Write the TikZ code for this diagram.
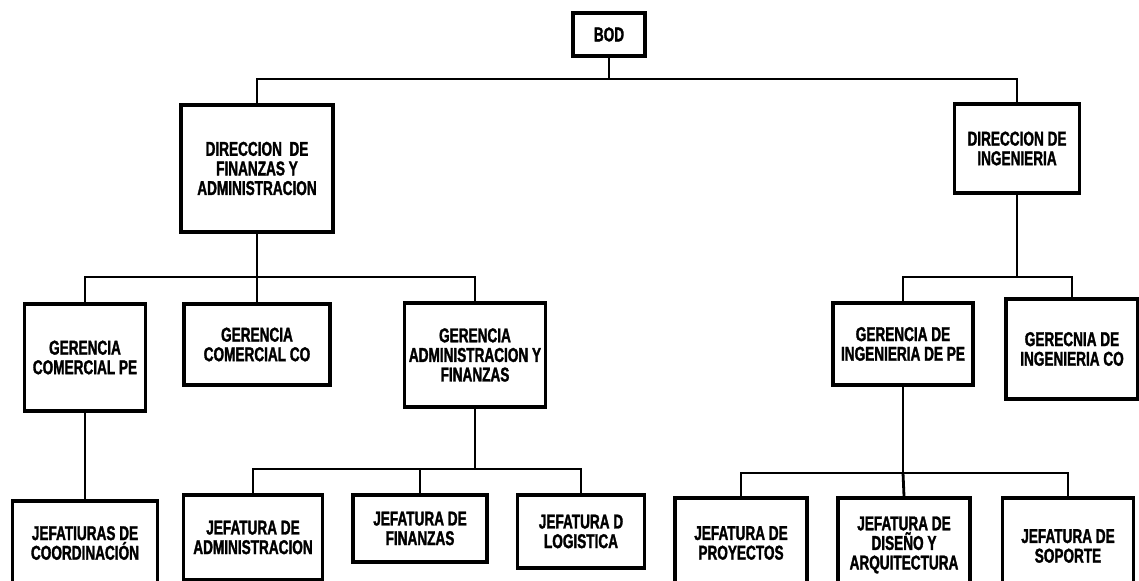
\documentclass[tikz,border=0pt]{standalone}
\usepackage{fontspec}
\setmainfont{Liberation Sans}[FakeStretch=0.68, BoldFeatures={FakeBold=1.5}]
\usepackage{tikz}

\begin{document}
\begin{tikzpicture}[x=0.5pt, y=-0.5pt,
  box/.style={draw, line width=1.8pt, fill=white, align=center, inner sep=0pt,
    font=\bfseries\fontsize{10}{9.8}\selectfont},
  link/.style={line width=1.4pt}]
  \useasboundingbox (0,0) rectangle (1139,581);
  \clip (0,0) rectangle (1139,581);
  % top levels
  \node[box, minimum width=36pt, minimum height=21.5pt] at (609,34.5) (bod) {BOD};
  \node[box, minimum width=76pt, minimum height=63.5pt] at (257,168.5) (dfa) {DIRECCION\ \ DE\\FINANZAS Y\\ADMINISTRACION};
  \node[box, minimum width=62.5pt, minimum height=44.5pt] at (1017,148.5) (di) {DIRECCION DE\\INGENIERIA};
  \node[box, minimum width=60.5pt, minimum height=53.5pt] at (85,357.5) (gcpe) {GERENCIA\\COMERCIAL PE};
  \node[box, minimum width=73pt, minimum height=40.5pt] at (257,344.5) (gcco) {GERENCIA\\COMERCIAL CO};
  \node[box, minimum width=70.5pt, minimum height=52pt] at (475,355) (gaf) {GERENCIA\\ADMINISTRACION Y\\FINANZAS};
  \node[box, minimum width=70pt, minimum height=41pt] at (903,344) (gipe) {GERENCIA DE\\INGENIERIA DE PE};
  \node[box, minimum width=66pt, minimum height=50pt] at (1072,349) (gico) {GERECNIA DE\\INGENIERIA CO};
  % bottom level
  \node[box, minimum width=72.5pt, minimum height=42pt] at (85,543) (jc) {JEFATIURAS DE\\COORDINACIÓN};
  \node[box, minimum width=69.5pt, minimum height=42.5pt] at (253,537.5) (ja) {JEFATURA DE\\ADMINISTRACION};
  \node[box, minimum width=67pt, minimum height=33.5pt] at (420,528.5) (jf) {JEFATURA DE\\FINANZAS};
  \node[box, minimum width=63.5pt, minimum height=36.5pt] at (581,531.5) (jl) {JEFATURA D\\LOGISTICA};
  \node[box, minimum width=66pt, minimum height=45pt] at (741,543) (jp) {JEFATURA DE\\PROYECTOS};
  \node[box, minimum width=66pt, minimum height=47pt] at (904,545) (jda) {JEFATURA DE\\DISEÑO Y\\ARQUITECTURA};
  \node[box, minimum width=65.5pt, minimum height=48pt] at (1068,546) (js) {JEFATURA DE\\SOPORTE};
  % junctions
  \coordinate (j0) at (609,79);
  \coordinate (j1) at (257,277);
  \coordinate (j2) at (1017,277);
  \coordinate (j3) at (475,469);
  \coordinate (j4) at (903,473);
  \draw[link] (bod.south) -- (j0);
  \draw[link] (j0) -| (dfa.north);
  \draw[link] (j0) -| (di.north);
  \draw[link] (dfa.south) -- (j1);
  \draw[link] (j1) -| (gcpe.north);
  \draw[link] (j1) -- (gcco.north);
  \draw[link] (j1) -| (gaf.north);
  \draw[link] (di.south) -- (j2);
  \draw[link] (j2) -| (gipe.north);
  \draw[link] (j2) -| (gico.north);
  \draw[link] (gcpe.south) -- (jc.north);
  \draw[link] (gaf.south) -- (j3);
  \draw[link] (j3) -| (ja.north);
  \draw[link] (j3) -| (jf.north);
  \draw[link] (j3) -| (jl.north);
  \draw[link] (gipe.south) -- (j4);
  \draw[link] (j4) -| (jp.north);
  \draw[link] (j4) -- (jda.north);
  \draw[link] (j4) -| (js.north);
\end{tikzpicture}
\end{document}
